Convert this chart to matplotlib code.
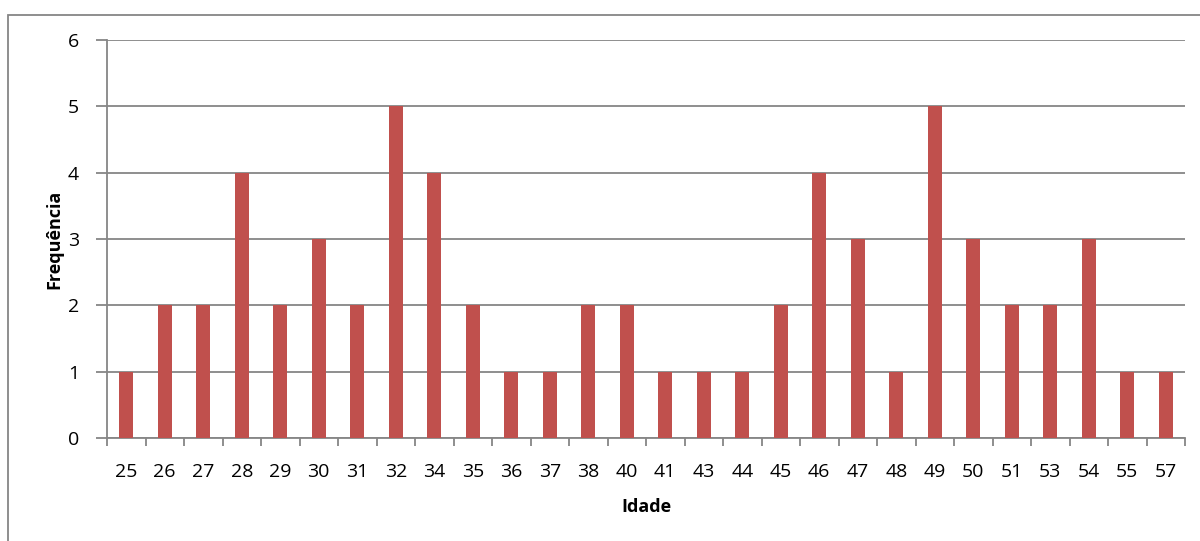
import matplotlib.pyplot as plt
import matplotlib.patches as patches
import numpy as np

idades = ["25", "26", "27", "28", "29", "30", "31", "32", "34", "35", "36", "37", "38", "40",
          "41", "43", "44", "45", "46", "47", "48", "49", "50", "51", "53", "54", "55", "57"]
frequencia = [1, 2, 2, 4, 2, 3, 2, 5, 4, 2, 1, 1, 2, 2,
              1, 1, 1, 2, 4, 3, 1, 5, 3, 2, 2, 3, 1, 1]

plt.rcParams['font.family'] = ['Open Sans', 'DejaVu Sans']
cinza = '#868686'

fig = plt.figure(figsize=(12, 5.41), dpi=100)
ax = fig.add_axes([107 / 1200, 1 - 438 / 541, (1185 - 107) / 1200, (438 - 40) / 541])

x = np.arange(len(idades))
ax.bar(x, frequencia, width=0.37, color='#C0504D', zorder=3)

ax.set_xlim(-0.5, len(idades) - 0.5)
ax.set_ylim(0, 6)
ax.set_yticks(range(0, 7))
ax.set_xticks(x)
ax.set_xticklabels(idades)
# ticks do eixo x entre as categorias
ax.set_xticks(np.arange(-0.5, len(idades)), minor=True)
ax.tick_params(axis='x', which='major', length=0, pad=18, labelsize=14)
ax.tick_params(axis='x', which='minor', length=6, color=cinza, width=1.3)
ax.tick_params(axis='y', length=8, color=cinza, width=1.3, pad=12, labelsize=14)

ax.grid(axis='y', color=cinza, linewidth=1.3, zorder=0)
for s in ['top', 'right']:
    ax.spines[s].set_visible(False)
for s in ['left', 'bottom']:
    ax.spines[s].set_color(cinza)
    ax.spines[s].set_linewidth(1.3)

ax.set_xlabel("Idade", fontweight='bold', fontsize=13, labelpad=12)
ax.set_ylabel("Frequência", fontweight='bold', fontsize=13, labelpad=3)

# borda da área do gráfico
borda = patches.Rectangle((8 / 1200, -0.1), 1.1, 1 - 15 / 541 + 0.1, transform=fig.transFigure,
                          fill=False, edgecolor=cinza, linewidth=1.3)
fig.patches.append(borda)

plt.savefig("out.png", dpi=100)
